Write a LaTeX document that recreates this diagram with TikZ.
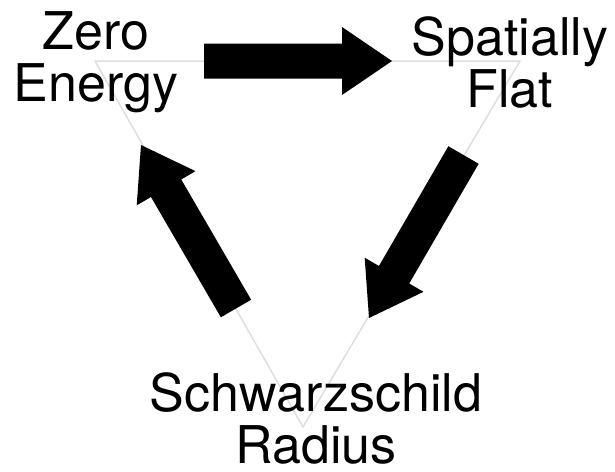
\documentclass[tikz,border=0pt]{standalone}
\usepackage{fontspec}
\setmainfont{TeX Gyre Heros}
\usetikzlibrary{calc}
\tikzset{
  lbl/.style={font=\fontsize{52}{52}\selectfont, align=center, anchor=base, inner sep=0pt},
  edgeline/.style={draw=black!13, line width=1.5pt},
}
\newcommand\blockarrow[2]{%
  \coordinate (hb) at ($(#2)!50pt!(#1)$);
  \fill[black] ($(#1)!17.5pt!90:(#2)$) -- ($(hb)!17.5pt!90:(#2)$) -- ($(hb)!34pt!90:(#2)$) -- (#2)
    -- ($(hb)!34pt!-90:(#2)$) -- ($(hb)!17.5pt!-90:(#2)$) -- ($(#1)!17.5pt!-90:(#2)$) -- cycle;
}
\begin{document}
\begin{tikzpicture}[x=1pt,y=-1pt]
\useasboundingbox (0,0) rectangle (615,471);
\coordinate (vZE) at (95,61);
\coordinate (vSF) at (520,61);
\coordinate (vSR) at (303,427);
\draw[edgeline] (vZE) -- (vSF) -- (vSR) -- cycle;
\node[lbl] (ze) at (96,101) {Zero\\Energy};
\node[lbl] (sf) at (510,107) {Spatially\\Flat};
\node[lbl, text depth=0pt] (sr) at (316,463) {Schwarzschild\\Radius};
\coordinate (a1s) at (204,61);
\coordinate (a1e) at (392,61);
\coordinate (a2s) at (463.5,155);
\coordinate (a2e) at (369,318);
\coordinate (a3s) at (236,308.5);
\coordinate (a3e) at (141,145);
\blockarrow{a1s}{a1e}
\blockarrow{a2s}{a2e}
\blockarrow{a3s}{a3e}
\end{tikzpicture}
\end{document}
